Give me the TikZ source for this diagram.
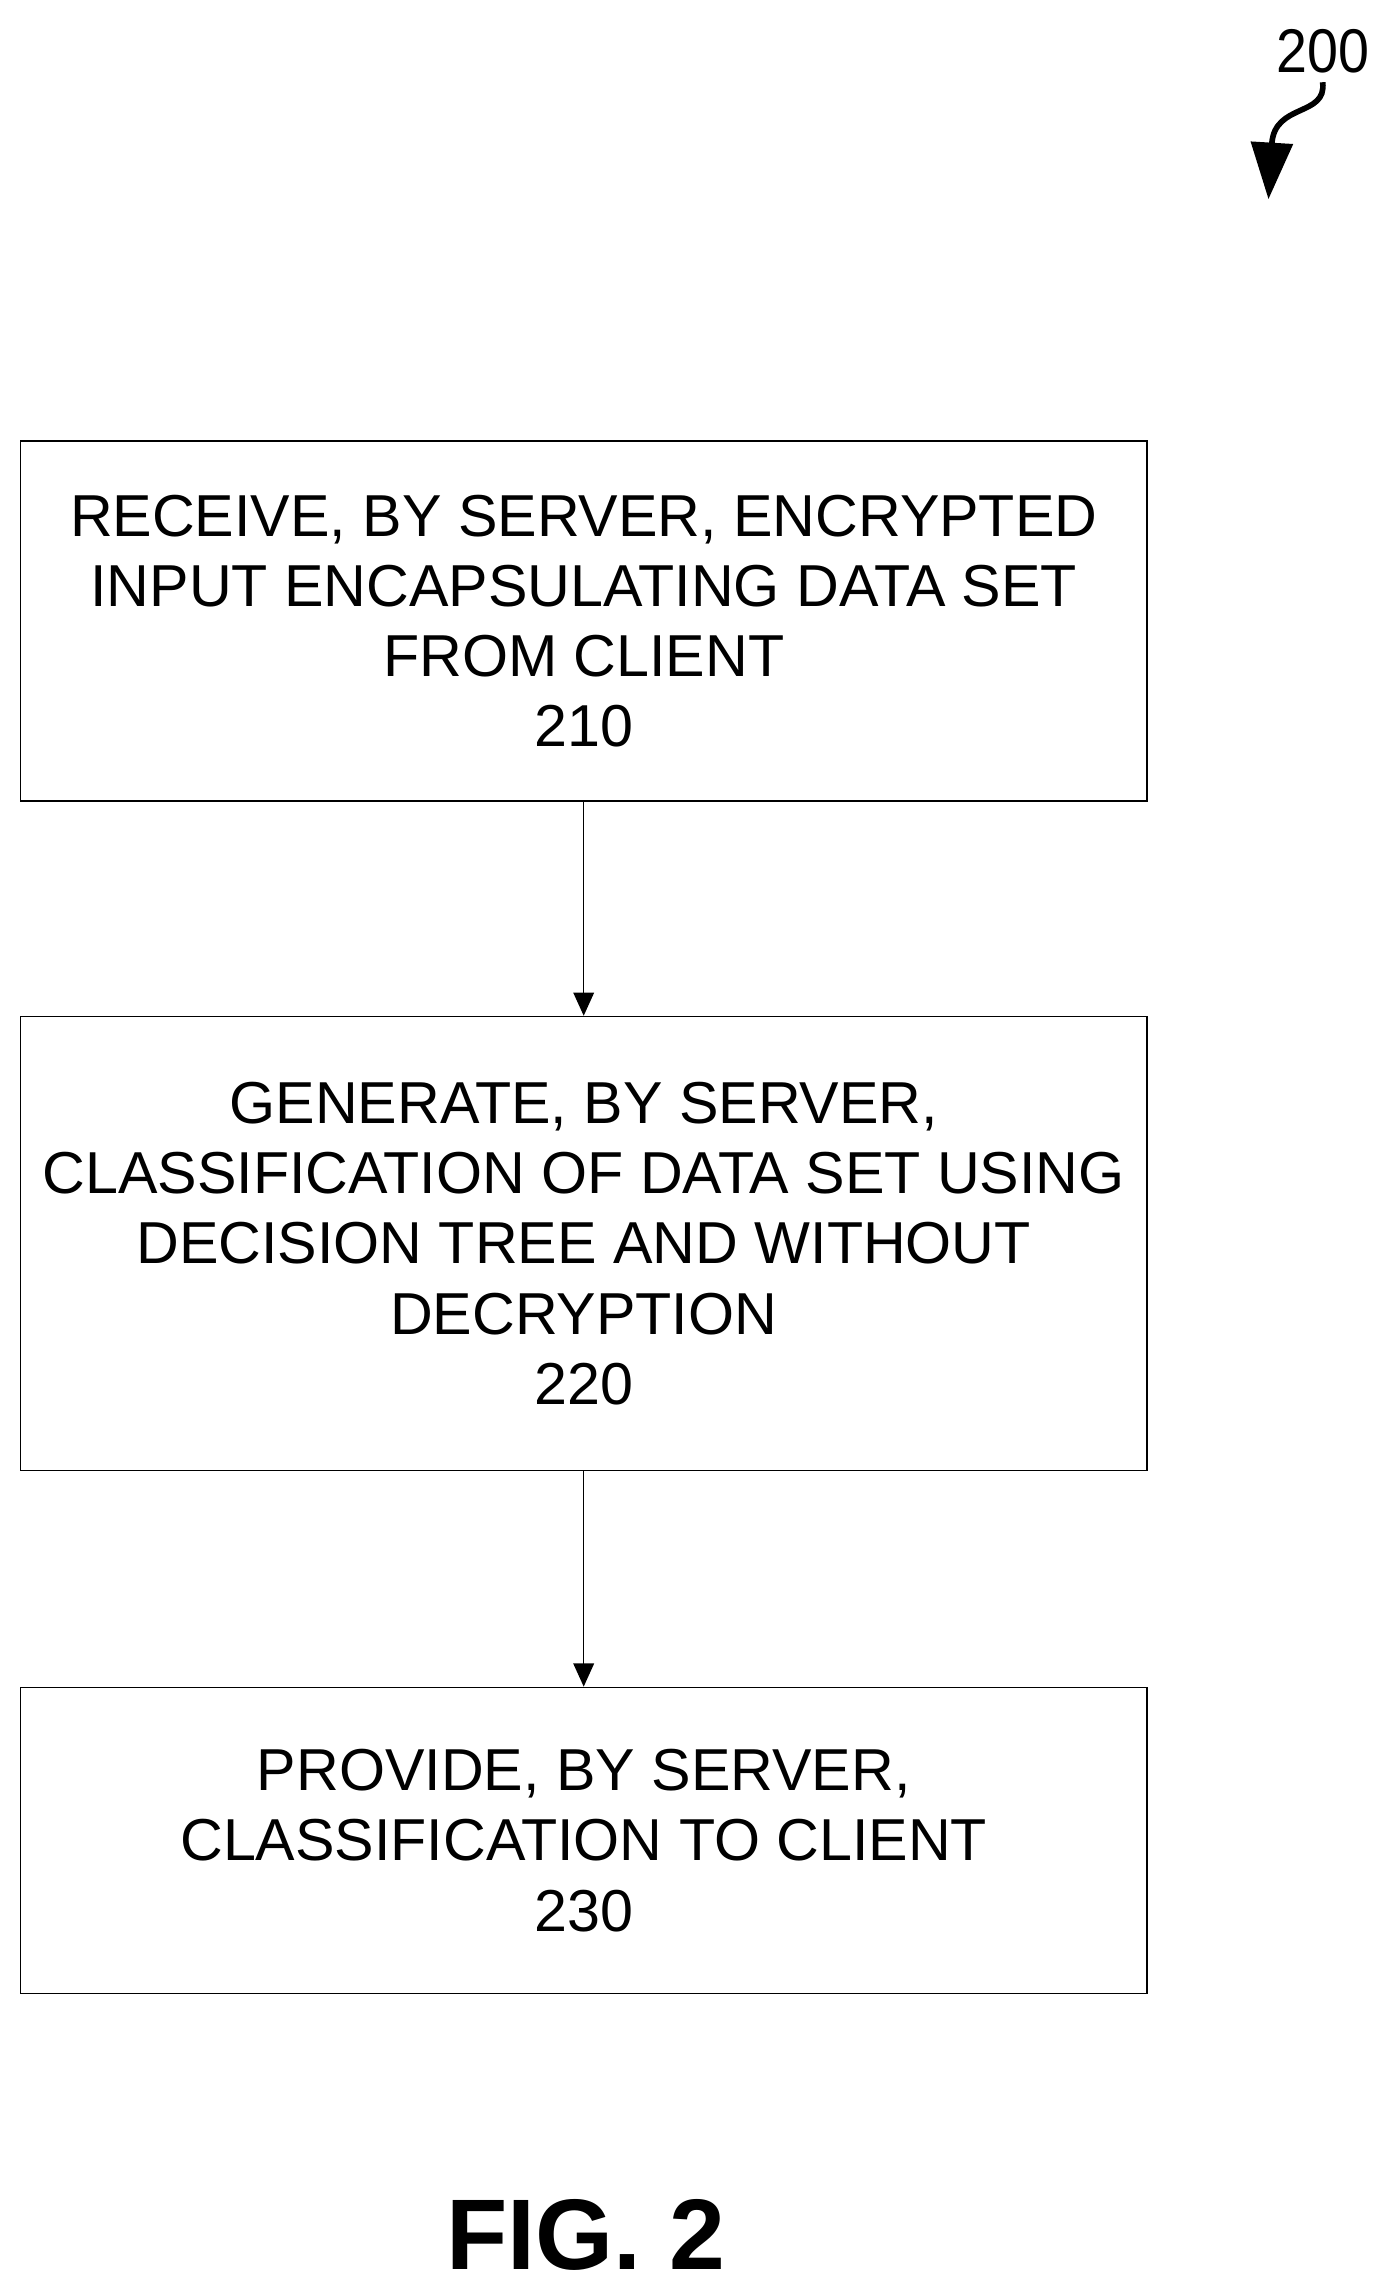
\documentclass[tikz,border=0pt]{standalone}
\usepackage{fontspec}
\setmainfont{Liberation Sans}
\usetikzlibrary{arrows.meta}
\usetikzlibrary{positioning}

\begin{document}
\begin{tikzpicture}[x=0.02cm,y=-0.02cm]
    \tikzset{
      stepbox/.style={draw,line width=0.6pt,minimum width=769*0.02cm,
        align=center,font=\fontsize{23}{27.3}\selectfont,inner sep=0pt},
      flow/.style={-{Triangle[width=8pt,length=9pt]},line width=0.6pt},
    }
    \useasboundingbox (0,0) rectangle (944,1560);

    % steps
    \node[stepbox,minimum height=246*0.02cm] (s210) at (398.5,424)
        {RECEIVE, BY SERVER, ENCRYPTED\\INPUT ENCAPSULATING DATA SET\\FROM CLIENT\\210};
    \node[stepbox,minimum height=310*0.02cm] (s220) at (398.5,849)
        {GENERATE, BY SERVER,\\CLASSIFICATION OF DATA SET USING\\DECISION TREE AND WITHOUT\\DECRYPTION\\220};
    \node[stepbox,minimum height=209*0.02cm] (s230) at (398.5,1256.5)
        {PROVIDE, BY SERVER,\\CLASSIFICATION TO CLIENT\\230};

    \draw[flow] (s210) -- (s220);
    \draw[flow] (s220) -- (s230);

    % figure label
    \node[font=\fontsize{39}{46}\selectfont\bfseries] (fig) at (400,1526) {FIG. 2};

    % reference mark
    \node[font=\fontsize{24}{28}\selectfont,xscale=0.9] (ref) at (903,35) {200};
    \coordinate (tip) at (866,136);
    \draw[line width=2.2pt,-{Triangle[width=16pt,length=22pt]}]
        (ref.south) .. controls (906,80) and (870,70) .. (tip);
\end{tikzpicture}
\end{document}
